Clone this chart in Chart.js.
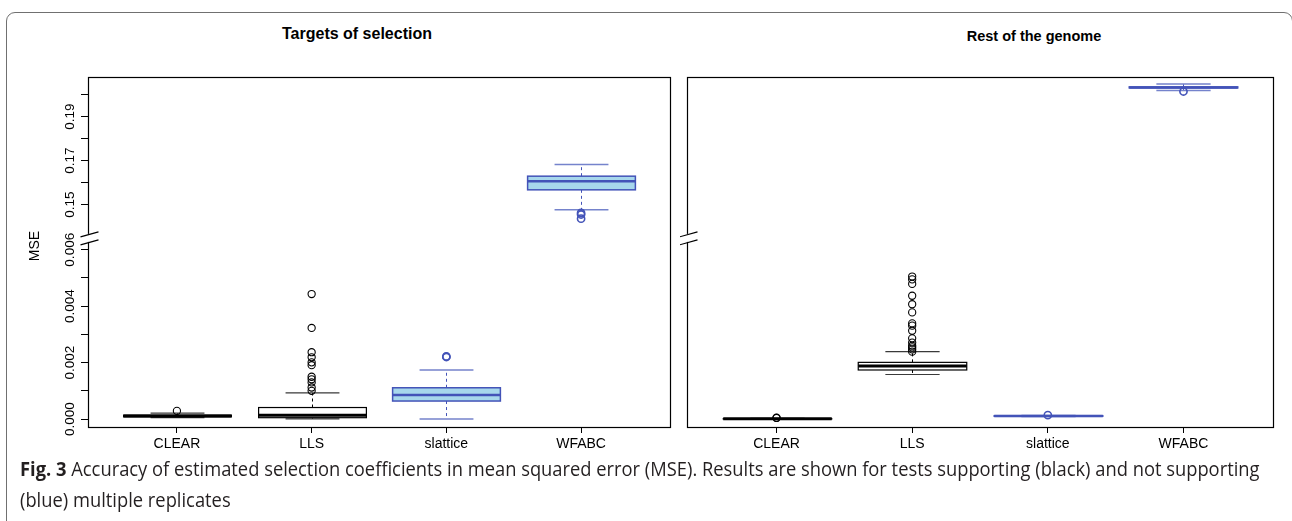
<!DOCTYPE html>
<html>
<head>
<meta charset="utf-8">
<script src="https://cdn.jsdelivr.net/npm/chart.js@4.4.1/dist/chart.umd.min.js"></script>
<style>
  html, body { margin: 0; padding: 0; background: #fff; width: 1292px; height: 521px; overflow: hidden; }
  body { position: relative; font-family: "Liberation Sans", Arial, sans-serif; }
  #frame { position: absolute; left: 6px; top: 12px; width: 1287px; height: 600px;
           border: 1.5px solid #707070; border-radius: 9px; box-sizing: border-box; }
  .ptitle { position: absolute; font-weight: bold; font-size: 16px; color: #000;
            transform: translate(-50%, -50%); white-space: nowrap; }
  .panel { position: absolute; top: 60px; }
  #caption { position: absolute; left: 20px; top: 453px; color: #231f20; white-space: nowrap;
             font-family: "Open Sans", "Noto Sans", sans-serif; font-size: 19.5px; line-height: 31px;
             transform: scaleX(0.94); transform-origin: 0 0; }
  #caption b { font-weight: bold; }
</style>
</head>
<body>
<div id="frame"></div>
<div class="ptitle" style="left:357px; top:34px;">Targets of selection</div>
<div class="ptitle" style="left:1034px; top:36px; font-size:14.5px;">Rest of the genome</div>
<canvas id="targetsChart" class="panel" width="680" height="400" style="left:0px;"></canvas>
<canvas id="restChart" class="panel" width="612" height="400" style="left:680px;"></canvas>
<div id="caption"><b>Fig. 3</b> Accuracy of estimated selection coefficients in mean squared error (MSE). Results are shown for tests supporting (black) and not supporting<br>(blue) multiple replicates</div>

<script>
// --- data ---
const CATEGORIES = ["CLEAR", "LLS", "slattice", "WFABC"];
const IS_BLUE = [false, false, true, true]; // black = supports replicates, blue = does not

const LOWER_TICKS = [0, 0.001, 0.002, 0.003, 0.004, 0.005, 0.006];
const UPPER_TICKS = [0.15, 0.16, 0.17, 0.18, 0.19, 0.20];
const TICK_LABELS = { 0: "0.000", 0.002: "0.002", 0.004: "0.004", 0.006: "0.006",
                      0.15: "0.15", 0.17: "0.17", 0.19: "0.19" };

// Targets of selection
const targetsWhiskerLow  = [0.00005, 0.00001, 0.00000, 0.1476];
const targetsQ1          = [0.00008, 0.00005, 0.00064, 0.1567];
const targetsMedian      = [0.00011, 0.00014, 0.00085, 0.1606];
const targetsQ3          = [0.00014, 0.00041, 0.00111, 0.1629];
const targetsWhiskerHigh = [0.00021, 0.00093, 0.00174, 0.1682];
const targetsOutliers = [
  [0.00029],
  [0.00443, 0.00323, 0.00237, 0.00219, 0.00201, 0.00191, 0.00150, 0.00141, 0.00130, 0.00112, 0.00100],
  [0.00220, 0.00222],
  [0.1462, 0.1455, 0.1436],
];

// Rest of the genome
const restWhiskerLow  = [0.000000, 0.00158, 0.00009, 0.20182];
const restQ1          = [0.000005, 0.00174, 0.00010, 0.20300];
const restMedian      = [0.000010, 0.00188, 0.00011, 0.20320];
const restQ3          = [0.000015, 0.00201, 0.00012, 0.20345];
const restWhiskerHigh = [0.000030, 0.00239, 0.00013, 0.20477];
const restOutliers = [
  [0.00004, 0.00005],
  [0.00505, 0.00495, 0.00479, 0.00437, 0.00407, 0.00378, 0.00339, 0.00331, 0.00313,
   0.00286, 0.00271, 0.00260, 0.00254, 0.00247, 0.00239],
  [0.00014],
  [0.20136],
];

// --- broken axis: lower part 0..0.006, upper part from 0.15 ---
const GAP_SPLIT = 0.05;
const UPPER_BASE = 7.6;   // axis position of 0.15
const UPPER_SCALE = 78;   // axis units per 1.0 above the gap
const BREAK_AT = 6.42;    // where the // marks go
function toAxis(v) {
  return v < GAP_SPLIT ? v * 1000 : UPPER_BASE + (v - 0.15) * UPPER_SCALE;
}

const BLUE = "#4353b8";
const BLUE_FILL = "#a7d7ec";
const BLUE_CAP = "#7583cc";
const FONT = "Liberation Sans, Arial, sans-serif";

function boxplotPlugin(stats) {
  return {
    id: "boxplot",
    beforeDatasetsDraw(chart) {
      const { ctx, chartArea: a, scales: { x, y } } = chart;
      const half = (x.getPixelForValue(2) - x.getPixelForValue(1)) * 0.4;
      const py = (v) => y.getPixelForValue(toAxis(v));
      ctx.save();
      ctx.beginPath();
      ctx.rect(a.left, a.top, a.right - a.left, a.bottom - a.top);
      ctx.clip();
      CATEGORIES.forEach((c, i) => {
        const px = Math.round(x.getPixelForValue(i + 1)) + 0.5;
        const blue = IS_BLUE[i];
        const stroke = blue ? BLUE : "#000";
        const lo = py(stats.low[i]), q1 = py(stats.q1[i]), md = py(stats.med[i]);
        const q3 = py(stats.q3[i]), hi = py(stats.high[i]);
        // whiskers
        ctx.strokeStyle = stroke;
        ctx.lineWidth = 1;
        ctx.setLineDash([3, 3]);
        ctx.beginPath();
        ctx.moveTo(px, q1); ctx.lineTo(px, lo);
        ctx.moveTo(px, q3); ctx.lineTo(px, hi);
        ctx.stroke();
        ctx.setLineDash([]);
        // staples
        ctx.strokeStyle = blue ? BLUE_CAP : "#3a3a3a";
        ctx.lineWidth = blue ? 1.5 : 1.2;
        ctx.beginPath();
        ctx.moveTo(px - half / 2, lo); ctx.lineTo(px + half / 2, lo);
        ctx.moveTo(px - half / 2, hi); ctx.lineTo(px + half / 2, hi);
        ctx.stroke();
        // box
        ctx.fillStyle = blue ? BLUE_FILL : "#fff";
        ctx.fillRect(px - half, q3, half * 2, q1 - q3);
        ctx.strokeStyle = stroke;
        ctx.lineWidth = blue ? 1.5 : 1.2;
        ctx.strokeRect(px - half, q3, half * 2, q1 - q3);
        // median
        ctx.lineWidth = blue ? 2.5 : 3;
        ctx.beginPath();
        ctx.moveTo(px - half, md); ctx.lineTo(px + half, md);
        ctx.stroke();
      });
      ctx.restore();
    },
  };
}

function framePlugin(withLabels) {
  return {
    id: "frame",
    afterDraw(chart) {
      const { ctx, chartArea: a, scales: { y } } = chart;
      ctx.save();
      ctx.strokeStyle = "#000";
      ctx.lineWidth = 1.2;
      ctx.strokeRect(Math.round(a.left) + 0.5, Math.round(a.top) + 0.5,
                     Math.round(a.right - a.left), Math.round(a.bottom - a.top));
      // axis break on the left edge
      const yb = y.getPixelForValue(BREAK_AT);
      const xl = Math.round(a.left) + 0.5;
      ctx.fillStyle = "#fff";
      ctx.fillRect(xl - 2, yb - 4, 4, 8);
      ctx.lineWidth = 1.2;
      ctx.beginPath();
      ctx.moveTo(xl - 8, yb - 1); ctx.lineTo(xl + 10, yb - 6);
      ctx.moveTo(xl - 8, yb + 7); ctx.lineTo(xl + 10, yb + 2);
      ctx.stroke();
      if (withLabels) {
        ctx.fillStyle = "#000";
        ctx.font = "13.5px " + FONT;
        ctx.textAlign = "center";
        ctx.textBaseline = "middle";
        Object.keys(TICK_LABELS).forEach((k) => {
          const yy = y.getPixelForValue(toAxis(Number(k)));
          ctx.save();
          ctx.translate(70, yy);
          ctx.rotate(-Math.PI / 2);
          ctx.fillText(TICK_LABELS[k], 0, 0);
          ctx.restore();
        });
        ctx.save();
        ctx.translate(35, 186);
        ctx.rotate(-Math.PI / 2);
        ctx.font = "14px " + FONT;
        ctx.fillText("MSE", 0, 0);
        ctx.restore();
      }
      ctx.restore();
    },
  };
}

function outlierSets(outliers) {
  const black = [], blue = [];
  outliers.forEach((vals, i) => {
    vals.forEach((v) => (IS_BLUE[i] ? blue : black).push({ x: i + 1, y: toAxis(v) }));
  });
  return [
    { data: black, borderColor: "#000", borderWidth: 1.1, pointRadius: 3.6 },
    { data: blue, borderColor: BLUE, borderWidth: 1.6, pointRadius: 3.6 },
  ].map((d) => ({ ...d, type: "scatter", backgroundColor: "rgba(0,0,0,0)", pointStyle: "circle", pointHoverRadius: 3.6 }));
}

function makePanel(canvasId, stats, outliers, opts) {
  return new Chart(document.getElementById(canvasId), {
    type: "scatter",
    data: { datasets: outlierSets(outliers) },
    options: {
      responsive: false,
      animation: false,
      events: [],
      layout: { padding: { left: 0, right: opts.padRight, top: 17, bottom: 0 } },
      plugins: { legend: { display: false }, tooltip: { enabled: false }, title: { display: false } },
      scales: {
        x: {
          type: "linear",
          min: 0.34,
          max: 4.66,
          afterBuildTicks: (s) => { s.ticks = CATEGORIES.map((c, i) => ({ value: i + 1 })); },
          afterFit: (s) => { s.height = 33; },
          ticks: {
            autoSkip: false, maxRotation: 0, minRotation: 0, padding: 3,
            color: "#000", font: { family: FONT, size: 14 },
            callback: (v) => CATEGORIES[v - 1],
          },
          grid: { drawOnChartArea: false, drawTicks: true, tickLength: 6, color: "#000", lineWidth: 1 },
          border: { display: false },
        },
        y: {
          type: "linear",
          min: -0.28,
          max: 12.12,
          afterBuildTicks: (s) => {
            s.ticks = opts.yTicks ? LOWER_TICKS.concat(UPPER_TICKS).map((v) => ({ value: toAxis(v) })) : [];
          },
          afterFit: (s) => { s.width = opts.yWidth; },
          ticks: { display: false },
          grid: { drawOnChartArea: false, drawTicks: opts.yTicks, tickLength: 7, color: "#000", lineWidth: 1 },
          border: { display: false },
        },
      },
    },
    plugins: [boxplotPlugin(stats), framePlugin(opts.yTicks)],
  });
}

makePanel("targetsChart", {
  low: targetsWhiskerLow, q1: targetsQ1, med: targetsMedian, q3: targetsQ3, high: targetsWhiskerHigh,
}, targetsOutliers, { padRight: 10, yWidth: 88, yTicks: true });

makePanel("restChart", {
  low: restWhiskerLow, q1: restQ1, med: restMedian, q3: restQ3, high: restWhiskerHigh,
}, restOutliers, { padRight: 19, yWidth: 7, yTicks: false });
</script>
</body>
</html>
